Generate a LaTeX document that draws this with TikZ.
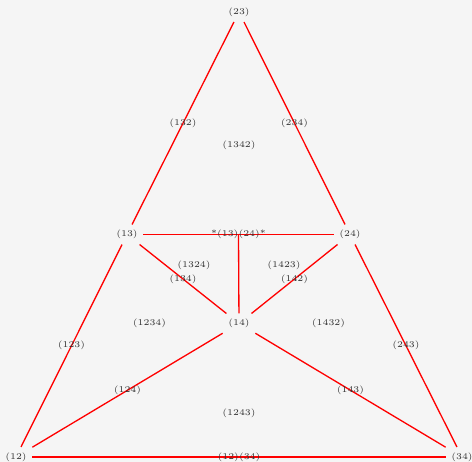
\documentclass[tikz,border=0pt]{standalone}
\usepackage{xcolor}
\usepackage{tikz}
\usetikzlibrary{positioning}
\definecolor{bggray}{RGB}{245,245,245}
\definecolor{lblgray}{RGB}{50,50,50}
\tikzset{
  vlabel/.style={font=\tiny, text=lblgray, inner sep=3pt},
  elabel/.style={font=\tiny, text=lblgray, inner sep=1pt},
  flabel/.style={font=\tiny, text=lblgray},
  redge/.style={draw=red, line width=0.75pt}
}

\begin{document}
\begin{tikzpicture}
\fill[bggray] (0,0) rectangle (9.44,9.24);
\useasboundingbox (0,0) rectangle (9.44,9.24);
% vertices
\node[vlabel] (p23) at (4.78,9.00) {(23)};
\node[vlabel] (p13) at (2.54,4.55) {(13)};
\node[vlabel] (p24) at (7.00,4.55) {(24)};
\node[vlabel] (p14) at (4.78,2.77) {(14)};
\node[vlabel] (p12) at (0.32,0.10) {(12)};
\node[vlabel] (p34) at (9.24,0.10) {(34)};
% edges
\draw[redge] (p23) -- (p13) node[elabel, midway] (e132) {(132)};
\draw[redge] (p23) -- (p24) node[elabel, midway] (e234) {(234)};
\draw[redge] (p13) -- (p24) node[elabel, midway] (mid) {*(13)(24)*};
\draw[redge] (mid.center) -- (p14);
\draw[redge] (p13) -- (p14) node[elabel, midway] (e134) {(134)};
\draw[redge] (p24) -- (p14) node[elabel, midway] (e142) {(142)};
\draw[redge] (p12) -- (p13) node[elabel, midway] (e123) {(123)};
\draw[redge] (p34) -- (p24) node[elabel, midway] (e243) {(243)};
\draw[redge] (p12) -- (p14) node[elabel, midway] (e124) {(124)};
\draw[redge] (p34) -- (p14) node[elabel, midway] (e143) {(143)};
\draw[redge] (p12) -- (p34) node[elabel, midway] (e1234) {(12)(34)};
% faces
\node[flabel] (f1342) at (4.78,6.34) {(1342)};
\node[flabel] (f1324) at (3.88,3.94) {(1324)};
\node[flabel] (f1423) at (5.68,3.94) {(1423)};
\node[flabel] (f1234) at (2.99,2.77) {(1234)};
\node[flabel] (f1432) at (6.57,2.77) {(1432)};
\node[flabel] (f1243) at (4.78,0.97) {(1243)};
\end{tikzpicture}
\end{document}
